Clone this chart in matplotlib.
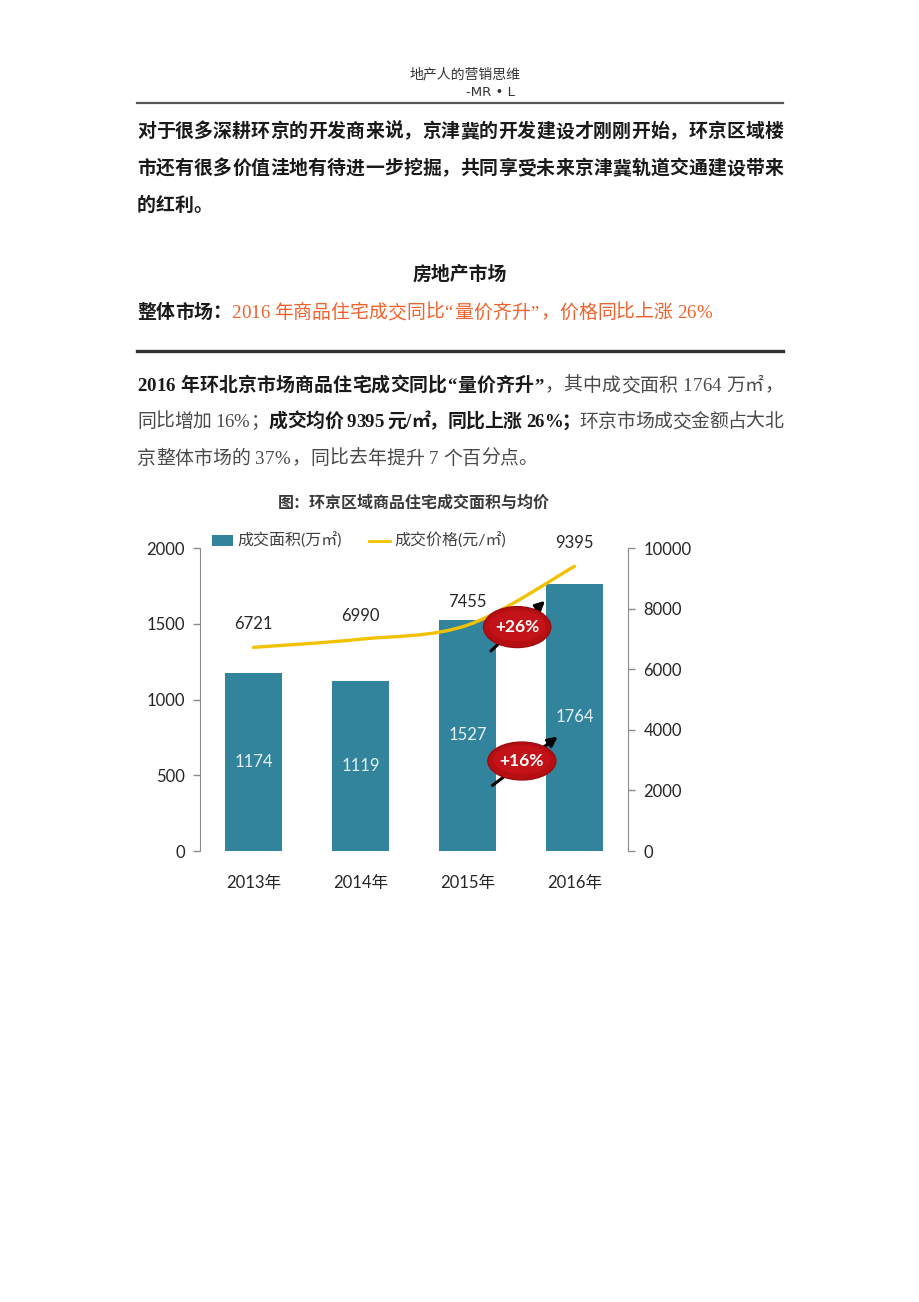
import matplotlib
matplotlib.use('Agg')
import matplotlib.pyplot as plt
from matplotlib.patches import Ellipse, FancyArrowPatch, PathPatch, Rectangle
from matplotlib.lines import Line2D
from matplotlib.path import Path

# ---------------- data ----------------
years = ['2013年', '2014年', '2015年', '2016年']
area = [1174, 1119, 1527, 1764]          # 成交面积(万㎡)
price = [6721, 6990, 7455, 9395]         # 成交价格(元/㎡)
left_ticks = [0, 500, 1000, 1500, 2000]
right_ticks = [0, 2000, 4000, 6000, 8000, 10000]
area_growth = '+16%'
price_growth = '+26%'

W, H = 920, 1302
fig = plt.figure(figsize=(W / 100, H / 100), dpi=100)
fig.patch.set_facecolor('white')

SERIF = ['Liberation Serif', 'Noto Sans CJK SC']
SANS = ['Lato', 'Noto Sans CJK SC']


def fx(x):
    return x / W


def fy(y):
    return 1 - y / H


# ---------------- document text ----------------
def char_w(ch, em):
    o = ord(ch)
    if ch == ' ':
        return 0.25 * em
    if ch.isdigit():
        return 0.5 * em
    if ch == '%':
        return 0.95 * em
    if ch == '/':
        return 0.3 * em
    if ch in '“”':
        return 0.55 * em
    if ch == '.':
        return 0.25 * em
    if o > 0x2E80 or ch in '，：；。':
        return 1.0 * em
    return 0.5 * em


def draw_line(runs, x0, y_base, size, x1=None):
    em = size * 100 / 72
    chars = []
    for text, weight, color in runs:
        for ch in text:
            chars.append((ch, weight, color))
    widths = [char_w(c[0], em) for c in chars]
    total = sum(widths)
    gap = 0.0
    if x1 is not None and len(chars) > 1:
        gap = (x1 - x0 - total) / (len(chars) - 1)
    x = x0
    for (ch, w, c), wd in zip(chars, widths):
        if ch != ' ':
            fig.text(fx(x), fy(y_base), ch, fontsize=size, fontweight=w,
                     color=c, family=SERIF, va='baseline', ha='left')
        x += wd + gap


BLACK = '#1a1a1a'
GRAY = '#4a4a4a'
ORANGE = '#F0622D'
XL, XR = 137, 783
BS = 13.6

# header
fig.text(fx(465), fy(75), '地产人的营销思维', fontsize=10, family=SERIF,
         color='#333333', ha='center', va='center')
fig.text(fx(490), fy(93), '-MR • L', fontsize=9.5, family=['DejaVu Sans', 'Noto Sans CJK SC'],
         color='#333333', ha='center', va='center')
fig.add_artist(Line2D([fx(XL), fx(XR)], [fy(103), fy(103)], color='#555555', lw=1.6))

# paragraph 1
draw_line([('对于很多深耕环京的开发商来说，京津冀的开发建设才刚刚开始，环京区域楼', 'bold', BLACK)],
          XL, 137, BS, XR)
draw_line([('市还有很多价值洼地有待进一步挖掘，共同享受未来京津冀轨道交通建设带来', 'bold', BLACK)],
          XL, 174, BS, XR)
draw_line([('的红利。', 'bold', BLACK)], XL, 211, BS)

# section title
fig.text(fx(460), fy(274), '房地产市场', fontsize=BS, family=SERIF, fontweight='bold',
         color=BLACK, ha='center', va='center')
draw_line([('整体市场：', 'bold', BLACK),
           ('2016 年商品住宅成交同比“量价齐升”，价格同比上涨 26%', 'normal', ORANGE)],
          XL, 318, BS)
fig.add_artist(Line2D([fx(XL), fx(XR)], [fy(351), fy(351)], color='#333333', lw=2.4))

# paragraph 2
draw_line([('2016 年环北京市场商品住宅成交同比“量价齐升”', 'bold', BLACK),
           ('，其中成交面积 1764 万㎡，', 'normal', GRAY)],
          XL, 391, BS, XR)
draw_line([('同比增加 16%；', 'normal', GRAY),
           ('成交均价 9395 元/㎡，同比上涨 26%；', 'bold', BLACK),
           ('环京市场成交金额占大北', 'normal', GRAY)],
          XL, 427, BS, XR)
draw_line([('京整体市场的 37%，同比去年提升 7 个百分点。', 'normal', GRAY)],
          XL, 464, BS)

# ---------------- chart ----------------
BAR = '#31849B'
LINE = '#F2C200'
AXC = '#8C8C8C'
TXT = '#262626'

ax = fig.add_axes([fx(200), fy(851), (628 - 200) / W, (851 - 548) / H])
x = list(range(len(years)))
bars = ax.bar(x, area, width=0.53, color=BAR, zorder=2)
ax.set_xlim(-0.5, 3.5)
ax.set_ylim(0, 2000)
ax.set_yticks(left_ticks)
ax.set_xticks(x)
ax.set_xticklabels(years)
for sp in ['top', 'bottom', 'right']:
    ax.spines[sp].set_visible(False)
ax.spines['left'].set_color(AXC)
ax.tick_params(axis='y', colors=AXC, length=5, width=1, labelcolor=TXT,
               labelsize=12, pad=6)
ax.tick_params(axis='x', length=0, labelcolor=TXT, labelsize=12, pad=17)
for lab in ax.get_yticklabels() + ax.get_xticklabels():
    lab.set_family(SANS)

for xi, v in zip(x, area):
    ax.text(xi, v / 2, str(v), ha='center', va='center', color='#E6F2F5',
            fontsize=12, family=SANS, zorder=3)

ax2 = ax.twinx()
ax2.set_ylim(0, 10000)
ax2.set_yticks(right_ticks)
for sp in ['top', 'bottom', 'left']:
    ax2.spines[sp].set_visible(False)
ax2.spines['right'].set_color(AXC)
ax2.tick_params(axis='y', colors=AXC, length=5, width=1, labelcolor=TXT,
                labelsize=12, pad=6)
for lab in ax2.get_yticklabels():
    lab.set_family(SANS)

# smooth line (Catmull-Rom style Bezier through the data points)
pts = list(zip(x, price))
verts = [pts[0]]
codes = [Path.MOVETO]
n = len(pts)
for i in range(n - 1):
    p0 = pts[i - 1] if i > 0 else pts[i]
    p1 = pts[i]
    p2 = pts[i + 1]
    p3 = pts[i + 2] if i + 2 < n else pts[i + 1]
    c1 = (p1[0] + (p2[0] - p0[0]) / 6, p1[1] + (p2[1] - p0[1]) / 6)
    c2 = (p2[0] - (p3[0] - p1[0]) / 6, p2[1] - (p3[1] - p1[1]) / 6)
    verts += [c1, c2, p2]
    codes += [Path.CURVE4] * 3
ax2.add_patch(PathPatch(Path(verts, codes), fill=False, edgecolor=LINE,
                        lw=2.4, capstyle='round', zorder=3))

for xi, v in zip(x, price):
    ax2.annotate(str(v), (xi, v), xytext=(0, 17), textcoords='offset points',
                 ha='center', va='center', fontsize=12, family=SANS, color=TXT)

# growth callouts
for (ax0, ay0, ax1, ay1), (ex, ey, ew, eh), label in [
        ((0.675, 0.654, 0.811, 0.832), (0.741, 0.739, 0.157, 0.135), price_growth),
        ((0.678, 0.211, 0.841, 0.383), (0.752, 0.297, 0.159, 0.125), area_growth)]:
    arr = FancyArrowPatch((ax0, ay0), (ax1, ay1), transform=ax2.transAxes,
                          arrowstyle='-|>', mutation_scale=14, lw=2.2,
                          color='black', zorder=5, clip_on=False)
    ax2.add_patch(arr)
    ax2.add_patch(Ellipse((ex, ey), ew, eh, transform=ax2.transAxes,
                          facecolor='#B50F14', edgecolor='#A00A0E', lw=1,
                          zorder=6, clip_on=False))
    ax2.add_patch(Ellipse((ex, ey + 0.004), ew * 0.85, eh * 0.75, transform=ax2.transAxes,
                          facecolor='#C41318', edgecolor='none',
                          zorder=6, clip_on=False))
    ax2.text(ex, ey, label, transform=ax2.transAxes, ha='center', va='center',
             color='white', fontsize=12.5, fontweight='bold', family=SANS, zorder=7)

# legend
handles = [Rectangle((0, 0), 1, 1, facecolor=BAR),
           Line2D([0], [0], color=LINE, lw=2)]
leg = fig.legend(handles, ['成交面积(万㎡)', '成交价格(元/㎡)'], loc='center left',
                 bbox_to_anchor=(fx(212), fy(541)), ncol=2, frameon=False,
                 prop={'family': SANS, 'size': 11.5}, handlelength=1.3,
                 handleheight=0.6, handletextpad=0.3, columnspacing=1.7,
                 borderaxespad=0, borderpad=0)
for t in leg.get_texts():
    t.set_color('#404040')

# title
fig.text(fx(414), fy(503), '图：环京区域商品住宅成交面积与均价', fontsize=11.5,
         fontweight='bold', family=SANS, color='#3a3a3a', ha='center', va='center')

fig.savefig('out.png', dpi=100, facecolor='white')
